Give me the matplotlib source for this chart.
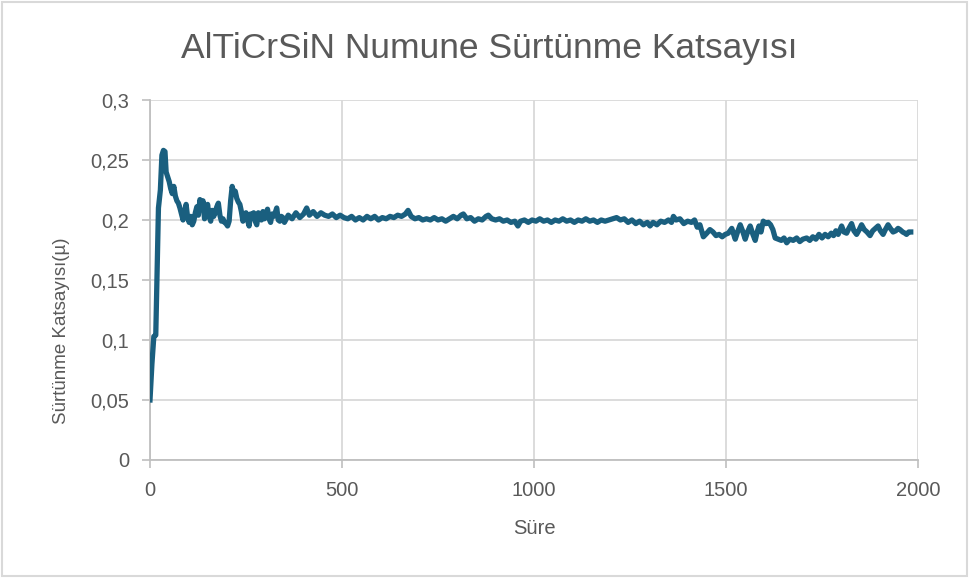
import numpy as np
import matplotlib
matplotlib.use("Agg")
import matplotlib.pyplot as plt
from matplotlib.ticker import FuncFormatter, MultipleLocator
from matplotlib.patches import Rectangle

# Süre values
sure = [0, 5, 10, 15, 18, 22, 27, 31, 35, 39, 42, 46, 50, 54, 58, 62, 66, 70, 74, 78,
        82, 86, 90, 94, 98, 102, 106, 110, 114, 118, 122, 126, 130, 134, 138, 142, 146, 150, 154, 158,
        162, 166, 170, 174, 178, 182, 186, 190, 194, 198, 202, 206, 210, 214, 218, 222, 226, 230, 234, 238,
        242, 246, 250, 254, 258, 262, 266, 270, 274, 278, 282, 286, 290, 294, 298, 302, 306, 310, 314, 318,
        322, 326, 330, 334, 338, 342, 346, 350, 360, 370, 380, 390, 400, 408, 415, 425, 435, 445, 455, 465,
        475, 485, 495, 505, 515, 525, 535, 545, 555, 565, 575, 585, 595, 605, 615, 625, 635, 645, 655, 665,
        672, 680, 690, 700, 710, 720, 730, 740, 750, 760, 770, 780, 790, 800, 810, 816, 825, 835, 845, 855,
        865, 875, 881, 890, 900, 910, 920, 930, 940, 950, 958, 965, 975, 985, 995, 1005, 1015, 1025, 1035, 1045,
        1055, 1065, 1075, 1085, 1095, 1105, 1115, 1125, 1135, 1145, 1155, 1165, 1175, 1185, 1195, 1205, 1215, 1225, 1235, 1245,
        1255, 1265, 1275, 1285, 1295, 1302, 1310, 1320, 1330, 1340, 1350, 1358, 1363, 1370, 1380, 1390, 1400, 1410, 1418, 1425,
        1432, 1441, 1450, 1458, 1466, 1474, 1482, 1490, 1498, 1506, 1515, 1520, 1524, 1530, 1537, 1543, 1550, 1556, 1563, 1570,
        1576, 1581, 1586, 1591, 1597, 1604, 1610, 1616, 1622, 1628, 1636, 1644, 1651, 1658, 1666, 1675, 1684, 1692, 1700, 1710,
        1718, 1726, 1734, 1742, 1750, 1758, 1766, 1774, 1780, 1786, 1792, 1801, 1807, 1814, 1820, 1827, 1833, 1840, 1847, 1853,
        1860, 1867, 1875, 1882, 1889, 1896, 1902, 1909, 1915, 1922, 1928, 1935, 1942, 1948, 1953, 1960, 1966, 1970, 1976, 1981]

# Sürtünme katsayısı values
mu = [0.050, 0.080, 0.103, 0.104, 0.150, 0.210, 0.225, 0.254, 0.258, 0.257, 0.240, 0.236, 0.232, 0.226, 0.222, 0.228, 0.220, 0.216, 0.214, 0.210,
      0.205, 0.200, 0.206, 0.213, 0.202, 0.198, 0.203, 0.196, 0.199, 0.206, 0.211, 0.204, 0.217, 0.210, 0.216, 0.201, 0.207, 0.213, 0.203, 0.199,
      0.208, 0.203, 0.207, 0.211, 0.214, 0.204, 0.199, 0.201, 0.198, 0.197, 0.195, 0.199, 0.216, 0.228, 0.222, 0.224, 0.218, 0.215, 0.213, 0.207,
      0.199, 0.205, 0.206, 0.200, 0.195, 0.205, 0.203, 0.206, 0.199, 0.196, 0.206, 0.204, 0.200, 0.207, 0.201, 0.204, 0.209, 0.201, 0.198, 0.205,
      0.203, 0.206, 0.210, 0.200, 0.199, 0.203, 0.202, 0.198, 0.204, 0.201, 0.206, 0.202, 0.205, 0.210, 0.204, 0.207, 0.203, 0.206, 0.204, 0.203,
      0.205, 0.202, 0.204, 0.202, 0.201, 0.203, 0.200, 0.202, 0.200, 0.203, 0.201, 0.203, 0.200, 0.202, 0.201, 0.203, 0.202, 0.204, 0.203, 0.205,
      0.208, 0.203, 0.201, 0.202, 0.200, 0.201, 0.200, 0.202, 0.200, 0.201, 0.199, 0.201, 0.203, 0.201, 0.204, 0.205, 0.201, 0.202, 0.199, 0.201,
      0.200, 0.203, 0.204, 0.201, 0.200, 0.201, 0.199, 0.200, 0.198, 0.199, 0.195, 0.199, 0.200, 0.198, 0.200, 0.199, 0.201, 0.199, 0.200, 0.198,
      0.200, 0.199, 0.201, 0.199, 0.200, 0.198, 0.200, 0.199, 0.201, 0.199, 0.200, 0.198, 0.200, 0.199, 0.200, 0.201, 0.202, 0.200, 0.201, 0.198,
      0.200, 0.197, 0.199, 0.196, 0.198, 0.195, 0.198, 0.196, 0.199, 0.198, 0.200, 0.198, 0.203, 0.200, 0.201, 0.197, 0.199, 0.198, 0.200, 0.194,
      0.196, 0.186, 0.189, 0.192, 0.190, 0.187, 0.188, 0.186, 0.188, 0.189, 0.193, 0.188, 0.184, 0.190, 0.196, 0.191, 0.184, 0.190, 0.195, 0.188,
      0.183, 0.190, 0.195, 0.190, 0.199, 0.197, 0.198, 0.196, 0.192, 0.185, 0.184, 0.183, 0.185, 0.181, 0.184, 0.183, 0.185, 0.182, 0.184, 0.185,
      0.183, 0.186, 0.184, 0.188, 0.185, 0.188, 0.186, 0.189, 0.187, 0.191, 0.188, 0.195, 0.190, 0.189, 0.193, 0.197, 0.191, 0.188, 0.192, 0.196,
      0.192, 0.190, 0.187, 0.191, 0.193, 0.195, 0.191, 0.188, 0.192, 0.196, 0.193, 0.190, 0.191, 0.193, 0.192, 0.190, 0.189, 0.188, 0.190, 0.190]

title = "AlTiCrSiN Numune Sürtünme Katsayısı"
xlabel = "Süre"
ylabel = "Sürtünme Katsayısı(µ)"

plt.rcParams['font.family'] = ['Liberation Sans', 'DejaVu Sans']
txt = '#595959'
gridc = '#d9d9d9'

fig = plt.figure(figsize=(9.69, 5.78), dpi=100)
ax = fig.add_axes([0.1548, 0.2042, 0.7926, 0.6228])

ax.plot(sure, mu, color='#1a5f7f', lw=3.8, solid_joinstyle='round', zorder=3)

ax.set_xlim(0, 2000)
ax.set_ylim(0, 0.3)
ax.xaxis.set_major_locator(MultipleLocator(500))
ax.yaxis.set_major_locator(MultipleLocator(0.05))
ax.yaxis.set_major_formatter(FuncFormatter(lambda v, p: f"{v:.2f}".rstrip('0').replace('.', ',').rstrip(',') if v else "0"))
ax.grid(True, color=gridc, lw=1.3, zorder=0)
for s in ['top', 'right']:
    ax.spines[s].set_visible(False)
for s in ['left', 'bottom']:
    ax.spines[s].set_color('#bfbfbf')
    ax.spines[s].set_linewidth(1.3)
ax.tick_params(colors='#bfbfbf', labelcolor=txt, labelsize=14.5, length=6, width=1.2)
ax.tick_params(axis='x', pad=9)
ax.tick_params(axis='y', pad=9)

ax.set_xlabel(xlabel, fontsize=14.5, color=txt)
ax.xaxis.set_label_coords(0.5, -0.165)
ax.set_ylabel(ylabel, fontsize=13.5, color=txt)
ax.yaxis.set_label_coords(-0.104, 0.36)
fig.text(0.505, 0.916, title, fontsize=25.5, color=txt, ha='center', va='center')

fig.patches.append(Rectangle((0.002, 0.003), 0.996, 0.994, transform=fig.transFigure,
                             fill=False, edgecolor=gridc, lw=1.5))

fig.savefig("out.png", dpi=100)
